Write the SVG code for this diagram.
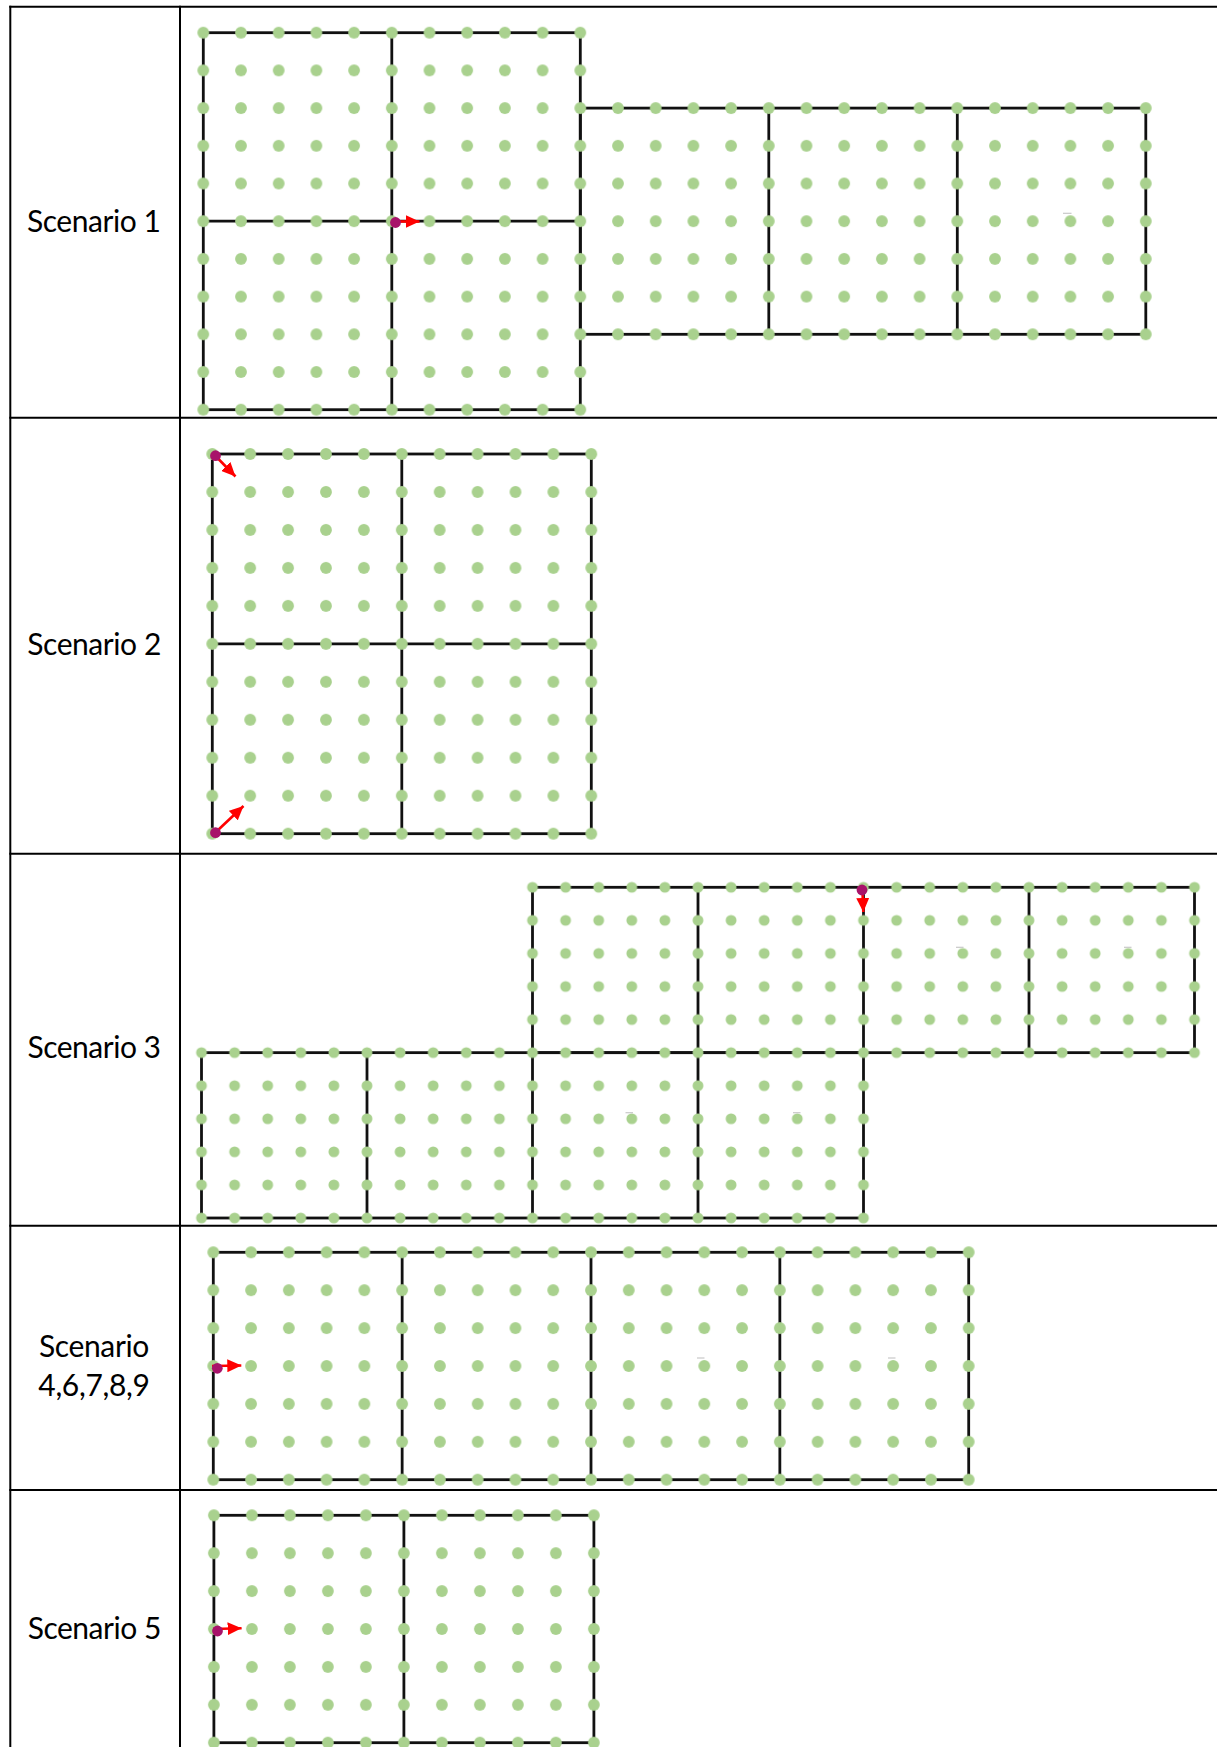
<svg xmlns="http://www.w3.org/2000/svg" width="1217" height="1747" viewBox="0 0 1217 1747">
<style>
.tbl{stroke:#000;stroke-width:2;fill:none}
.grid{stroke:#111;stroke-width:2.8;fill:none}
.lbl{font-family:Lato,"Liberation Sans",sans-serif;font-size:30px;fill:#000}
.arr{stroke:#FF0000;stroke-width:2.6;fill:none;marker-end:url(#ah)}
.start{fill:#A8136A}
.art{stroke:#C8C8C8;stroke-width:1.2}
</style>
<defs>
<marker id="ah" markerUnits="userSpaceOnUse" markerWidth="14" markerHeight="13" refX="14" refY="6.5" orient="auto"><path d="M0,0 L14,6.5 L0,13 Z" fill="#FF0000"/></marker>
<pattern id="p1" patternUnits="userSpaceOnUse" x="184.45" y="13.85" width="37.7" height="37.7"><circle cx="18.85" cy="18.85" r="5.9" fill="#A9D18E"/></pattern>
<pattern id="p2" patternUnits="userSpaceOnUse" x="193.35" y="435.015" width="37.9" height="37.97"><circle cx="18.95" cy="18.985" r="5.9" fill="#A9D18E"/></pattern>
<pattern id="p3" patternUnits="userSpaceOnUse" x="184.95" y="870.765" width="33.1" height="33.07"><circle cx="16.55" cy="16.535" r="5.4" fill="#A9D18E"/></pattern>
<pattern id="p4" patternUnits="userSpaceOnUse" x="194.415" y="1233.35" width="37.77" height="37.9"><circle cx="18.885" cy="18.95" r="5.9" fill="#A9D18E"/></pattern>
<pattern id="p5" patternUnits="userSpaceOnUse" x="194.9" y="1496.35" width="38" height="37.9"><circle cx="19" cy="18.95" r="5.9" fill="#A9D18E"/></pattern>
</defs>
<rect width="1217" height="1747" fill="#fff"/>

<g id="table">
<line class="tbl" x1="10.3" y1="5.7" x2="10.3" y2="1747"/>
<line class="tbl" x1="180" y1="5.7" x2="180" y2="1747"/>
<line class="tbl" x1="9.3" y1="6.7" x2="1217" y2="6.7"/>
<line class="tbl" x1="9.3" y1="417.7" x2="1217" y2="417.7"/>
<line class="tbl" x1="9.3" y1="853.8" x2="1217" y2="853.8"/>
<line class="tbl" x1="9.3" y1="1225.7" x2="1217" y2="1225.7"/>
<line class="tbl" x1="9.3" y1="1490" x2="1217" y2="1490"/>
</g>

<g id="labels">
<text class="lbl" x="27" y="231.7" textLength="134">Scenario 1</text>
<text class="lbl" x="27.3" y="655" textLength="134">Scenario 2</text>
<text class="lbl" x="27.5" y="1058.3" textLength="133.5">Scenario 3</text>
<text class="lbl" x="39" y="1356.7" textLength="110.3">Scenario</text>
<text class="lbl" x="38.3" y="1396" textLength="111.7">4,6,7,8,9</text>
<text class="lbl" x="27.7" y="1639.3" textLength="133.6">Scenario 5</text>
</g>

<g id="scenario1">
<rect class="grid" x="203.3" y="32.7" width="377" height="377"/>
<line class="grid" x1="391.8" y1="32.7" x2="391.8" y2="409.7"/>
<line class="grid" x1="203.3" y1="221.2" x2="580.3" y2="221.2"/>
<rect class="grid" x="580.3" y="108.1" width="565.5" height="226.2"/>
<line class="grid" x1="768.8" y1="108.1" x2="768.8" y2="334.3"/>
<line class="grid" x1="957.3" y1="108.1" x2="957.3" y2="334.3"/>
<rect x="184.45" y="13.85" width="414.7" height="414.7" fill="url(#p1)"/>
<rect x="599.15" y="89.25" width="565.5" height="263.9" fill="url(#p1)"/>
<line class="art" x1="1063" y1="213.3" x2="1071.5" y2="213.3"/>
</g>

<g id="scenario2">
<rect class="grid" x="212.3" y="454" width="379" height="379.7"/>
<line class="grid" x1="401.8" y1="454" x2="401.8" y2="833.7"/>
<line class="grid" x1="212.3" y1="643.85" x2="591.3" y2="643.85"/>
<rect x="193.35" y="435.015" width="416.9" height="417.67" fill="url(#p2)"/>
</g>

<g id="scenario3">
<rect class="grid" x="532.5" y="887.3" width="662" height="165.35"/>
<line class="grid" x1="698" y1="887.3" x2="698" y2="1052.65"/>
<line class="grid" x1="863.5" y1="887.3" x2="863.5" y2="1052.65"/>
<line class="grid" x1="1029" y1="887.3" x2="1029" y2="1052.65"/>
<rect class="grid" x="201.5" y="1052.65" width="662" height="165.35"/>
<line class="grid" x1="367" y1="1052.65" x2="367" y2="1218"/>
<line class="grid" x1="532.5" y1="1052.65" x2="532.5" y2="1218"/>
<line class="grid" x1="698" y1="1052.65" x2="698" y2="1218"/>
<rect x="515.95" y="870.765" width="695.1" height="198.42" fill="url(#p3)"/>
<rect x="184.95" y="1036.115" width="331" height="198.42" fill="url(#p3)"/>
<rect x="515.95" y="1069.185" width="364.1" height="165.35" fill="url(#p3)"/>
<line class="art" x1="956" y1="947.3" x2="963.5" y2="947.3"/>
<line class="art" x1="1124" y1="947.3" x2="1131.5" y2="947.3"/>
<line class="art" x1="625.5" y1="1112.7" x2="633" y2="1112.7"/>
<line class="art" x1="793" y1="1112.7" x2="800.5" y2="1112.7"/>
</g>

<g id="scenario4">
<rect class="grid" x="213.3" y="1252.3" width="755.4" height="227.4"/>
<line class="grid" x1="402.15" y1="1252.3" x2="402.15" y2="1479.7"/>
<line class="grid" x1="591" y1="1252.3" x2="591" y2="1479.7"/>
<line class="grid" x1="779.85" y1="1252.3" x2="779.85" y2="1479.7"/>
<rect x="194.415" y="1233.35" width="793.17" height="265.3" fill="url(#p4)"/>
<line class="art" x1="697" y1="1358" x2="704.5" y2="1358"/>
<line class="art" x1="888" y1="1358" x2="895.5" y2="1358"/>
</g>

<g id="scenario5">
<rect class="grid" x="213.9" y="1515.3" width="380" height="227.4"/>
<line class="grid" x1="403.9" y1="1515.3" x2="403.9" y2="1742.7"/>
<rect x="194.9" y="1496.35" width="418" height="265.3" fill="url(#p5)"/>
</g>

<g id="connectors">
<line class="arr" x1="398" y1="221.5" x2="419.5" y2="221.5"/>
<line class="arr" x1="217" y1="457.5" x2="235.5" y2="476.5"/>
<line class="arr" x1="217" y1="831" x2="243.5" y2="806"/>
<line class="arr" x1="862.5" y1="892" x2="863.3" y2="912"/>
<line class="arr" x1="212" y1="1366" x2="241.3" y2="1365.5"/>
<line class="arr" x1="213" y1="1629" x2="241.6" y2="1628.3"/>
</g>

<g id="start-points">
<circle class="start" cx="395.5" cy="222.5" r="5.4"/>
<circle class="start" cx="215.5" cy="455.7" r="5.4"/>
<circle class="start" cx="215.5" cy="832.7" r="5.4"/>
<circle class="start" cx="862" cy="890" r="5.4"/>
<circle class="start" cx="217.3" cy="1368.3" r="5.4"/>
<circle class="start" cx="217.5" cy="1631" r="5.4"/>
</g>
</svg>
